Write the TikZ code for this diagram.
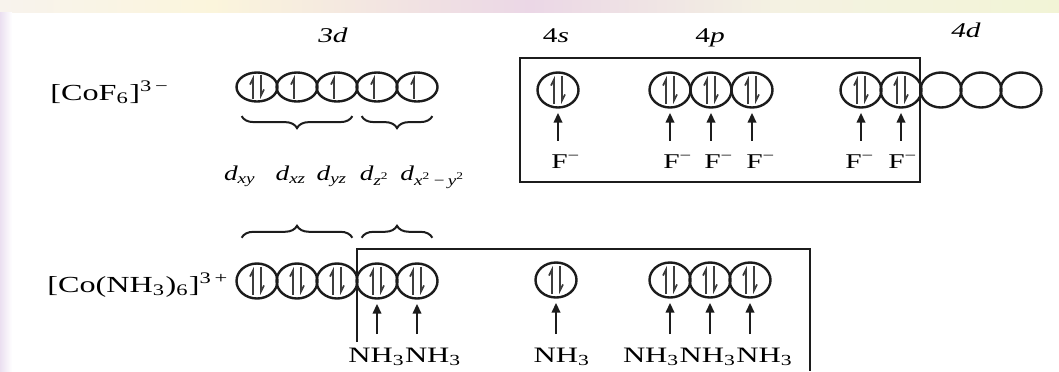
\documentclass[tikz,border=0pt]{standalone}
\usepackage{amssymb,amsmath}
\usepackage{fontspec}
\setmainfont{Liberation Serif}
\usepackage{xcolor}
\usepackage{tikz}
\usetikzlibrary{arrows.meta,shapes.geometric,decorations.pathreplacing}
\definecolor{ink}{HTML}{1C1C1C}
\definecolor{spincol}{HTML}{3C3C3C}
\definecolor{bandA}{HTML}{CFCDD2}
\definecolor{bandB}{HTML}{E6D5E4}
\definecolor{bandC}{HTML}{F6F2F6}
\definecolor{bandD}{HTML}{FBF5DC}
\definecolor{bandE}{HTML}{EBD7E6}
\definecolor{bandF}{HTML}{F4F2E2}
\definecolor{bandG}{HTML}{F2F4D6}
\definecolor{bandH}{HTML}{D9D6D9}
\definecolor{bandI}{HTML}{E2D2EA}
\pgfdeclarehorizontalshading{topband}{100bp}{color(0bp)=(bandA); color(10bp)=(bandB);
  color(20bp)=(bandC); color(35bp)=(bandD); color(50bp)=(bandE); color(62bp)=(bandF);
  color(75bp)=(bandG); color(88bp)=(bandH); color(100bp)=(bandI)}
\newcommand{\stretchx}[1]{\scalebox{1.4}[1]{#1}}
\newcommand{\stretchd}[1]{\scalebox{1.3}[1]{#1}}

\begin{document}
\begin{tikzpicture}[x=0.5pt, y=-0.5pt,
  orb/.style={draw=ink, ellipse, line width=1.2pt, inner sep=0pt,
    minimum width=20.5pt, minimum height=17.5pt},
  orbflat/.style={orb, minimum height=14.5pt},
  spin/.style={draw=spincol, line width=0.85pt,
    -{Straight Barb[left, length=3pt, width=3pt]}},
  lig/.style={draw=ink, line width=1.2pt, -{Triangle[length=5pt, width=4.2pt]},
    shorten >=2pt, shorten <=6.5pt},
  frame/.style={draw=ink, line width=1pt},
  brc/.style={draw=ink, line width=1pt, decorate,
    decoration={brace, amplitude=6pt}},
  head/.style={font=\fontsize{10.5}{12}\selectfont, anchor=base, inner sep=0pt},
  cplx/.style={font=\fontsize{11.5}{13}\selectfont, anchor=base west, inner sep=0pt},
  orbl/.style={font=\fontsize{10.5}{12}\selectfont, anchor=base, inner sep=0pt},
  ion/.style={font=\fontsize{10.5}{12}\selectfont, anchor=base, inner sep=0pt},
  amm/.style={font=\fontsize{11}{13}\selectfont, anchor=base, inner sep=0pt},
]
\useasboundingbox (0,0) rectangle (1059,371);
% slide background showing at the edges
\shade[shading=topband] (0,0) rectangle (1059,12);
\shade[left color=bandI!70, right color=white] (0,12) rectangle (12,371);

% headings
\node[head] (h3d) at (333,42) {\stretchx{\textit{3d}}};
\node[head] (h4s) at (556,42) {\stretchx{4\textit{s}}};
\node[head] (h4p) at (710,42) {\stretchx{4\textit{p}}};
\node[head] (h4d) at (966,37) {\stretchx{\textit{4d}}};

% [CoF6]3-
\node[cplx] (cof) at (50,100) {\stretchx{[CoF\textsubscript{6}]\textsuperscript{3\,−}}};
\foreach \i/\x in {1/257,2/297,3/337,4/377,5/417}
  \node[orbflat] (a\i) at (\x,87) {};
\node[orb] (s1) at (558,90) {};
\foreach \i/\x in {1/670,2/711,3/752}
  \node[orb] (p\i) at (\x,90) {};
\foreach \i/\x in {1/861,2/901,3/941,4/981,5/1021}
  \node[orb] (d\i) at (\x,90) {};

\draw[brc] ([yshift=-9pt]a3.south east) -- ([yshift=-9pt]a1.south west);
\draw[brc] ([yshift=-9pt]a5.south east) -- ([yshift=-9pt]a4.south west);

\node[orbl] (dxy) at (240,180) {\stretchd{\textit{d}\textsubscript{\textit{xy}}}};
\node[orbl] (dxz) at (291,180) {\stretchd{\textit{d}\textsubscript{\textit{xz}}}};
\node[orbl] (dyz) at (332,180) {\stretchd{\textit{d}\textsubscript{\textit{yz}}}};
\node[orbl] (dz) at (375,180) {\stretchd{\textit{d}\textsubscript{\textit{z}\textsuperscript{2}}}};
\node[orbl] (dxy2) at (433,180) {\stretchd{\textit{d}\textsubscript{\textit{x}\textsuperscript{2}\,−\,\textit{y}\textsuperscript{2}}}};

\draw[frame] (520,58) rectangle (920,182);

\foreach \n/\x in {s1/566,p1/678,p2/719,p3/761,d1/860,d2/903} {
  \node[ion] (f\n) at (\x,168) {\stretchx{F\textsuperscript{−}}};
  \draw[lig] (\n.south |- f\n.north) -- (\n.south);
}

% [Co(NH3)6]3+
\node[cplx] (conh) at (47,292) {\stretchx{[Co(NH\textsubscript{3})\textsubscript{6}]\textsuperscript{3\,+}}};
\foreach \i/\x in {1/257,2/297,3/337,4/377,5/417}
  \node[orb] (b\i) at (\x,281) {};
\node[orb] (t1) at (556,280) {};
\foreach \i/\x in {1/670,2/710,3/750}
  \node[orb] (q\i) at (\x,280) {};

\draw[brc] ([yshift=15pt]b1.north west) -- ([yshift=15pt]b3.north east);
\draw[brc] ([yshift=15pt]b4.north west) -- ([yshift=15pt]b5.north east);

\draw[frame] (357,342) -- (357,249) -- (810,249) -- (810,371);

\node[amm] (n1) at (405,362) {\stretchx{NH\textsubscript{3}NH\textsubscript{3}}};
\node[amm] (n2) at (562,362) {\stretchx{NH\textsubscript{3}}};
\node[amm] (n3) at (708,362) {\stretchx{NH\textsubscript{3}NH\textsubscript{3}NH\textsubscript{3}}};
\foreach \n/\m in {b4/n1,b5/n1,t1/n2,q1/n3,q2/n3,q3/n3}
  \draw[lig] (\n.south |- \m.north) -- (\n.south);

% electron spins
\foreach \n in {s1,p1,p2,p3,d1,d2,b1,b2,b3,b4,b5,t1,q1,q2,q3} {
  \draw[spin] ([shift={(-2pt,-7pt)}]\n.center) -- ([shift={(-2pt,7pt)}]\n.center);
  \draw[spin] ([shift={(2pt,7pt)}]\n.center) -- ([shift={(2pt,-7pt)}]\n.center);
}
\draw[spin] ([shift={(-2pt,-6pt)}]a1.center) -- ([shift={(-2pt,6pt)}]a1.center);
\draw[spin] ([shift={(2pt,6pt)}]a1.center) -- ([shift={(2pt,-6pt)}]a1.center);
\foreach \n in {a2,a3,a4,a5}
  \draw[spin] ([shift={(-1.5pt,-6pt)}]\n.center) -- ([shift={(-1.5pt,6pt)}]\n.center);
\end{tikzpicture}
\end{document}
